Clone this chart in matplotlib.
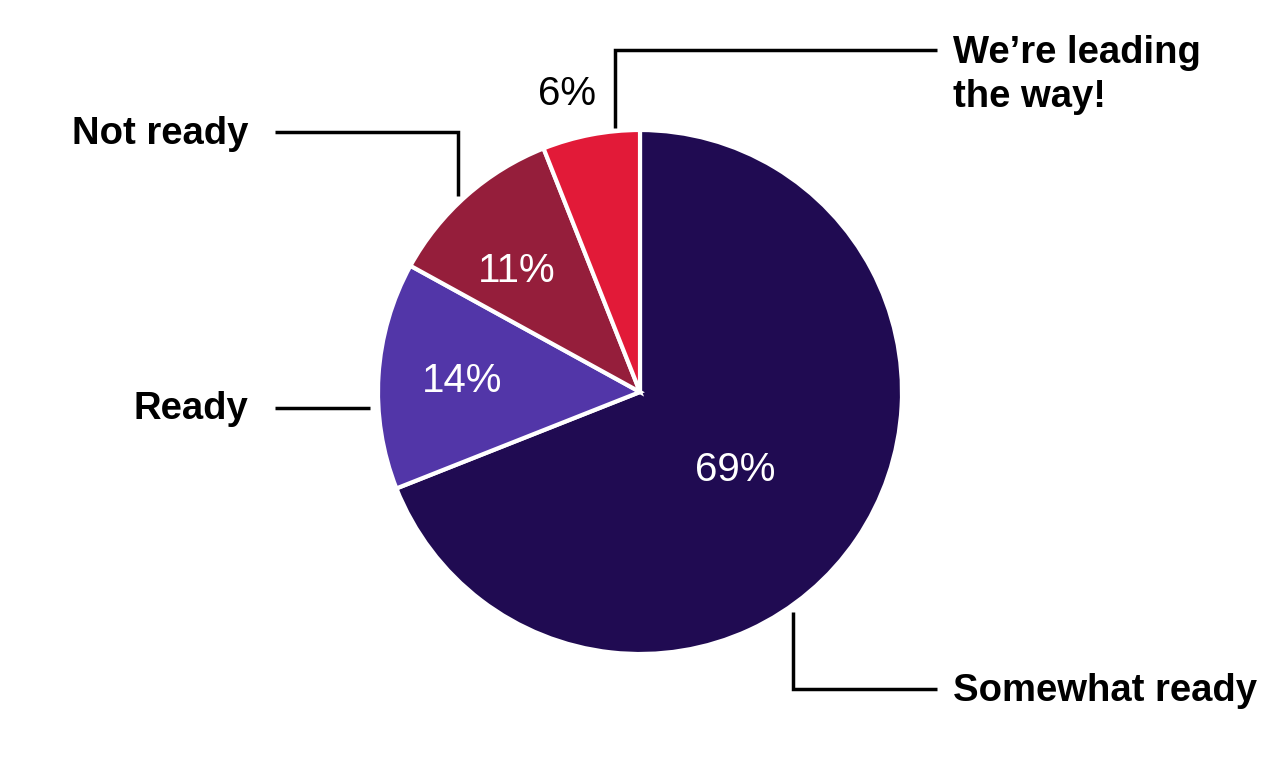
import numpy as np
import matplotlib
matplotlib.use('Agg')
import matplotlib.pyplot as plt

plt.rcParams['font.family'] = ['Liberation Sans', 'DejaVu Sans']

# data
labels = ['Somewhat ready', 'Ready', 'Not ready', 'We\u2019re leading\nthe way!']
shares = [69, 14, 11, 6]
colors = ['#200B52', '#5236A8', '#951E3B', '#E21A38']

W, H = 1280, 784


def py(y):
    # pixel row (from top) -> axes y (from bottom)
    return H - y


fig = plt.figure(figsize=(12.8, 7.84), dpi=100)
ax = fig.add_axes([0, 0, 1, 1])

cx, cy, R = 640, 392, 262
wedges, _ = ax.pie(shares, colors=colors, startangle=90, counterclock=False,
                   center=(cx, cy), radius=R, frame=True,
                   wedgeprops=dict(edgecolor='white', linewidth=3))
ax.set_xlim(0, W)
ax.set_ylim(0, H)
ax.set_aspect('equal')
ax.axis('off')

# percentage labels (radius as fraction of R, angle tweak in degrees)
pct_pos = [(0.47, -5), (0.68, 0), (0.66, 4), (1.17, 3)]
for w, v, (rf, da) in zip(wedges, shares, pct_pos):
    ang = np.deg2rad((w.theta1 + w.theta2) / 2 + da)
    x = cx + rf * R * np.cos(ang)
    y = cy + rf * R * np.sin(ang)
    col = 'black' if rf > 1 else 'white'
    ax.text(x, y, f'{v}%', color=col, fontsize=29, ha='center', va='center')

# category labels with leader lines
lk = dict(color='black', lw=2.5, solid_capstyle='butt', solid_joinstyle='miter')
fs = 27.5
# Somewhat ready
ax.plot([793, 793, 937], [py(612), py(689), py(689)], **lk)
ax.text(953, py(691), labels[0], fontsize=fs, fontweight='bold', ha='left', va='center')
# Ready
ax.plot([275, 370], [py(408), py(408)], **lk)
ax.text(248, py(409), labels[1], fontsize=fs, fontweight='bold', ha='right', va='center')
# Not ready
ax.plot([275, 458, 458], [py(132), py(132), py(196)], **lk)
ax.text(248, py(134), labels[2], fontsize=fs, fontweight='bold', ha='right', va='center')
# We're leading the way!
ax.plot([615, 615, 937], [py(128), py(50), py(50)], **lk)
ax.text(953, py(75), labels[3], fontsize=fs, fontweight='bold', ha='left', va='center',
        linespacing=1.3)

fig.savefig('out.png', dpi=100)
